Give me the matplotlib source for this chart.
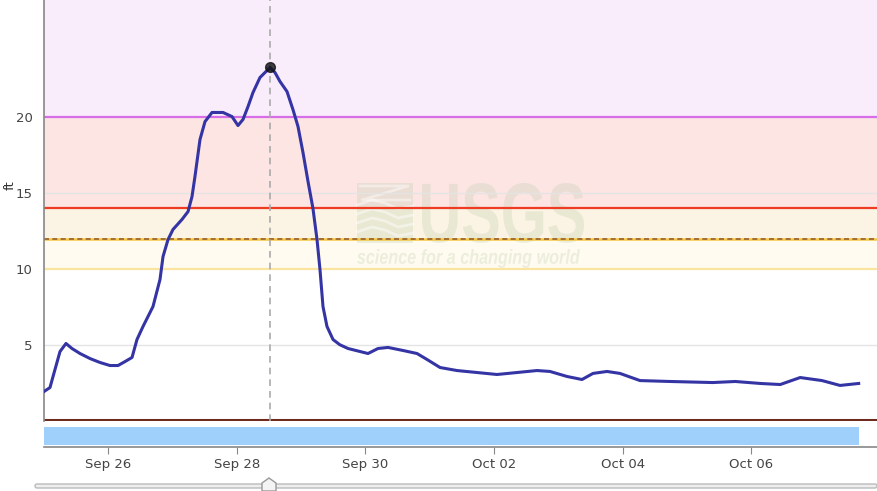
import pandas as pd
import matplotlib
matplotlib.use('Agg')
import matplotlib.pyplot as plt
import matplotlib.dates as mdates
from matplotlib.patches import FancyBboxPatch, PathPatch, Rectangle
from matplotlib.textpath import TextPath
from matplotlib.font_manager import FontProperties
from matplotlib.transforms import Affine2D

# gage height readings (days after Sep 25 00:00, ft)
days = [0.000, 0.093, 0.171, 0.249, 0.342, 0.435, 0.560, 0.715, 0.871, 1.026,
        1.151, 1.260, 1.369, 1.446, 1.540, 1.695, 1.804, 1.851, 1.929, 2.006,
        2.146, 2.240, 2.302, 2.348, 2.426, 2.504, 2.613, 2.784, 2.924, 3.017,
        3.095, 3.173, 3.250, 3.359, 3.437, 3.515, 3.592, 3.670, 3.779, 3.872,
        3.950, 4.028, 4.106, 4.183, 4.246, 4.292, 4.339, 4.401, 4.495, 4.600,
        4.728, 5.039, 5.194, 5.350, 5.583, 5.801, 5.956, 6.159, 6.423, 6.734,
        7.045, 7.356, 7.667, 7.869, 8.134, 8.367, 8.538, 8.756, 8.958, 9.269,
        9.736, 10.40, 10.75, 11.14, 11.45, 11.76, 12.10, 12.38, 12.67]
stage = [1.94, 2.20, 3.39, 4.57, 5.10, 4.77, 4.44, 4.11, 3.85, 3.65,
         3.65, 3.91, 4.18, 5.36, 6.22, 7.53, 9.31, 10.82, 11.94, 12.60,
         13.26, 13.78, 14.77, 16.09, 18.52, 19.70, 20.30, 20.30, 20.03, 19.44,
         19.84, 20.69, 21.61, 22.60, 22.93, 23.26, 22.93, 22.34, 21.68, 20.49,
         19.38, 17.66, 15.76, 13.98, 11.94, 9.97, 7.53, 6.22, 5.36, 5.02,
         4.77, 4.44, 4.77, 4.84, 4.64, 4.44, 4.05, 3.52, 3.32, 3.19,
         3.06, 3.19, 3.32, 3.26, 2.93, 2.73, 3.13, 3.26, 3.13, 2.66,
         2.60, 2.53, 2.60, 2.47, 2.40, 2.86, 2.66, 2.34, 2.47]

# flood stage thresholds (ft)
action_stage = 10
flood_stage = 12
moderate_stage = 14
major_stage = 20
peak_day = 3.515

start = pd.Timestamp('2024-09-25')
t = start + pd.to_timedelta(days, unit='D')
peak_t = start + pd.Timedelta(days=peak_day)
peak_val = max(stage)
x0 = start
x1 = start + pd.Timedelta(days=12.955)
ytop = 27.7
H = 491

fig = plt.figure(figsize=(8.77, 4.91), dpi=100)
ax = fig.add_axes([44/877, 70/491, 833/877, 421/491])

# shaded stage bands
ax.axhspan(major_stage, ytop, color='#f9ecfb', lw=0)
ax.axhspan(moderate_stage, major_stage, color='#fce5e3', lw=0)
ax.axhspan(flood_stage, moderate_stage, color='#fbf3e4', lw=0)
ax.axhspan(action_stage, flood_stage, color='#fffbf0', lw=0)
for v in [5, 15]:
    ax.axhline(v, color='#e4e4e4', lw=1, zorder=2)

wm_color = '#bccba8'
wm_alpha = 0.27


# watermark, fitted into a pixel box (left, top, right, bottom)
def fit_text(s, box, weight='bold', style='normal'):
    fp = FontProperties(family='Liberation Sans', weight=weight, style=style)
    p = TextPath((0, 0), s, size=100, prop=fp)
    ext = p.get_extents()
    l, tp, r, b = box
    tr = (Affine2D().translate(-ext.x0, -ext.y0)
          .scale((r - l) / ext.width, (b - tp) / ext.height)
          .translate(l, H - b))
    ax.add_patch(PathPatch(p, transform=tr, fc=wm_color, ec='none',
                           alpha=wm_alpha, zorder=1.5))


fit_text('USGS', (422, 183, 584, 243))
fit_text('science for a changing world', (357, 249, 580, 268), style='italic')
# emblem
em_tr = Affine2D()
ax.add_patch(Rectangle((357, H - 243), 56, 60, transform=em_tr, fc=wm_color,
                       ec='none', alpha=wm_alpha, zorder=1.5))
for yy in [205, 214, 223, 232]:
    ax.plot([357, 372, 385, 398, 413], [H - yy, H - yy + 5, H - yy + 2, H - yy - 4, H - yy - 1],
            transform=em_tr, color='white', alpha=0.45, lw=2, zorder=1.6)
ax.plot([360, 408, 362, 410], [H - 186, H - 186, H - 200, H - 200], transform=em_tr,
        color='white', alpha=0.45, lw=2, zorder=1.6)

ax.axhline(major_stage, color='#d76ee8', lw=1.6)
ax.axhline(moderate_stage, color='#ef3b22', lw=1.6)
ax.axhline(flood_stage, color='#f3c642', lw=1.8)
ax.axhline(flood_stage, color='#95602f', lw=1.2, ls=(0, (3, 2)))
ax.axhline(action_stage, color='#fbe3a0', lw=1.6)
ax.axhline(0.05, color='#6e2a1c', lw=2.2)

ax.axvline(peak_t, color='#aaaaaa', lw=1.2, ls=(0, (4, 3)))
ax.plot(t, stage, color='#3434a4', lw=2.2, zorder=5)
ax.plot([peak_t], [peak_val], 'o', color='#111111', ms=7, alpha=0.8, zorder=6)

ax.set_xlim(x0, x1)
ax.set_ylim(0, ytop)
ax.set_yticks([5, 10, 15, 20])
ax.tick_params(axis='y', length=0, labelsize=9.5, labelcolor='#444444', pad=8)
ax.set_xticks([])
for s in ['top', 'right', 'bottom']:
    ax.spines[s].set_visible(False)
ax.spines['left'].set_color('#888888')
ax.spines['left'].set_linewidth(1.2)
fig.text(10/877, 1 - 185/491, 'ft', rotation=90, ha='center', va='center',
         fontsize=9.5, color='#333333')

# navigator strip with date axis
nav = fig.add_axes([44/877, 44/491, 833/877, 24/491])
nav.barh([0.5], [t[-1] - start], left=start, height=0.8, color='#9fcffb')
nav.set_xlim(x0, x1)
nav.set_ylim(0, 1.1)
nav.set_yticks([])
for s in ['top', 'right', 'left']:
    nav.spines[s].set_visible(False)
nav.spines['bottom'].set_color('#888888')
nav.spines['bottom'].set_linewidth(1.2)
nav.xaxis.set_major_locator(mdates.DayLocator(bymonthday=[2, 4, 6, 26, 28, 30]))
nav.xaxis.set_major_formatter(mdates.DateFormatter('%b %d'))
nav.tick_params(axis='x', length=5, color='#888888', labelsize=9.5,
                labelcolor='#444444', pad=3)

# slider at the bottom
sl = fig.add_axes([0, 0, 1, 12/491])
sl.set_xlim(0, 877)
sl.set_ylim(0, 12)
sl.axis('off')
sl.add_patch(FancyBboxPatch((35, 3), 842, 4, boxstyle='round,pad=0,rounding_size=2',
                            fc='#eeeeee', ec='#bbbbbb', lw=1))
sl.add_patch(plt.Polygon([[262, 0], [276, 0], [276, 8], [269, 13], [262, 8]],
                         closed=True, fc='#f4f4f4', ec='#999999', lw=1, clip_on=False))

fig.savefig('out.png', dpi=100)
